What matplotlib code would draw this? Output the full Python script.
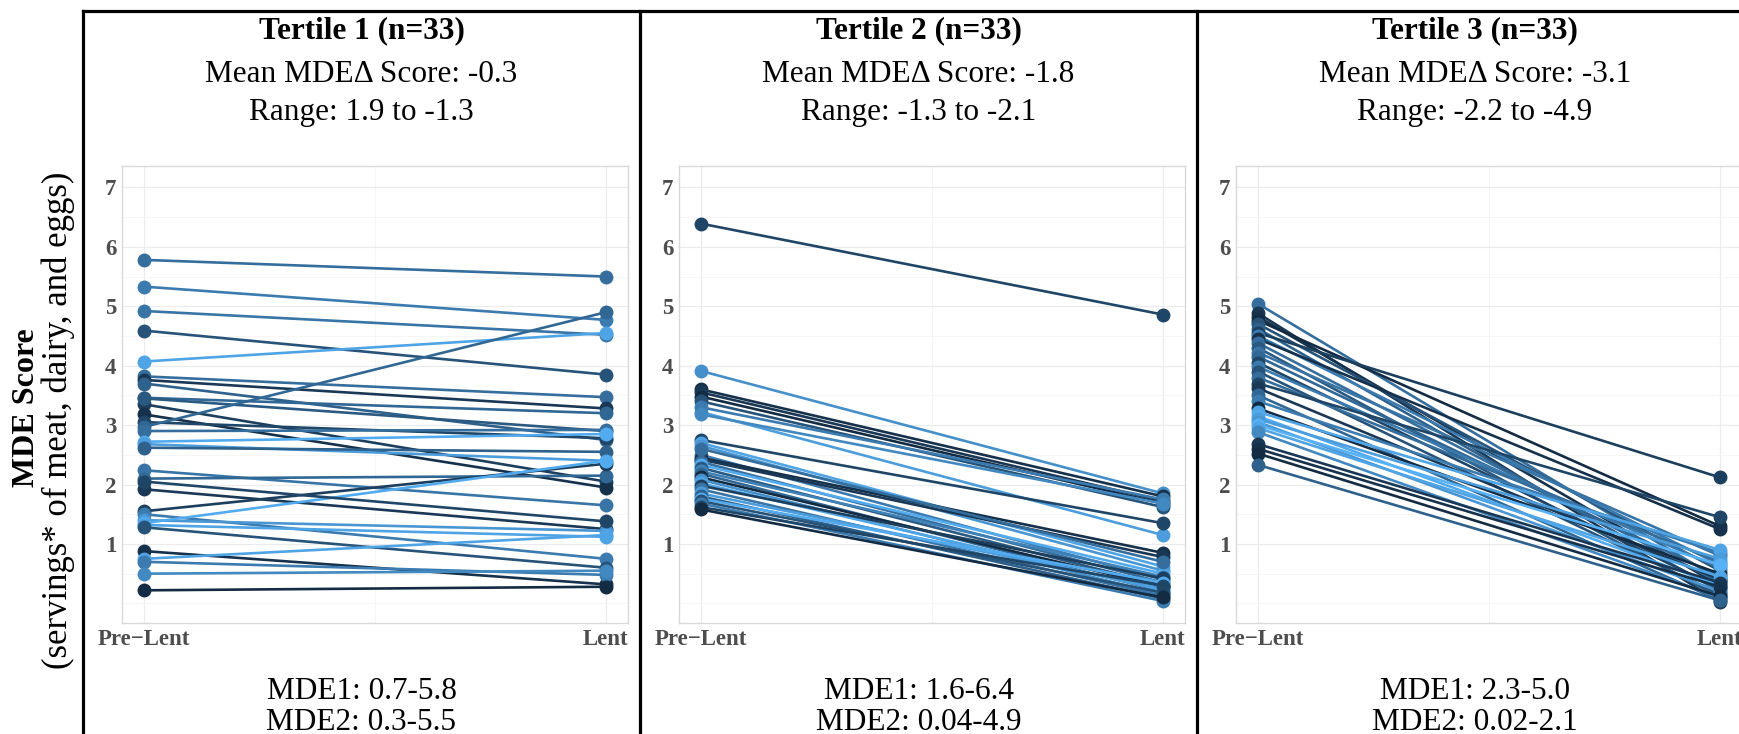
import numpy as np
import matplotlib
matplotlib.use('Agg')
import matplotlib.pyplot as plt
from matplotlib.colors import LinearSegmentedColormap
from matplotlib.lines import Line2D

plt.rcParams['font.family'] = ['Liberation Serif', 'DejaVu Serif']

# 数据：每个三分位组 33 人，Lent 前后的 MDE 分数，以及颜色值 (0 深 - 1 浅)
pre_1 = [5.78, 5.33, 4.92, 4.59, 4.07, 3.82, 3.76, 3.70, 3.35, 3.46, 3.45, 3.18, 3.05,
         2.97, 2.90, 2.72, 2.68, 2.62, 2.24, 2.10, 1.92, 1.55, 1.50, 1.40, 1.35, 1.32,
         1.28, 0.88, 0.75, 0.70, 0.50, 0.22, 2.05]
lent_1 = [5.50, 4.77, 4.52, 3.85, 4.55, 3.47, 3.28, 2.75, 2.05, 3.20, 2.90, 1.95, 2.78,
          4.90, 2.92, 2.85, 2.40, 2.55, 1.65, 2.15, 1.25, 2.35, 0.75, 1.22, 2.40, 1.12,
          0.60, 0.32, 1.15, 0.48, 0.55, 0.28, 1.38]
col_1 = [0.5, 0.6, 0.55, 0.3, 0.9, 0.5, 0.1, 0.4, 0.15, 0.45, 0.35, 0.05, 0.2,
         0.45, 0.5, 0.95, 0.85, 0.4, 0.55, 0.45, 0.1, 0.15, 0.6, 0.8, 0.95, 0.9,
         0.3, 0.05, 0.9, 0.6, 0.7, 0.0, 0.2]

pre_2 = [6.39, 3.91, 3.60, 3.55, 3.48, 3.40, 3.22, 3.30, 3.18, 2.75, 2.70, 2.65, 2.50,
         2.45, 2.42, 2.38, 2.33, 2.28, 2.22, 2.18, 2.12, 2.08, 2.02, 1.98, 1.92, 1.85,
         1.80, 1.76, 1.72, 1.68, 1.62, 1.58, 2.60]
lent_2 = [4.86, 1.85, 1.80, 1.72, 1.68, 1.62, 1.15, 1.75, 1.68, 1.35, 0.62, 0.55, 0.40,
          0.85, 0.78, 0.35, 0.50, 0.30, 0.45, 0.20, 0.28, 0.15, 0.22, 0.42, 0.12, 0.25,
          0.08, 0.35, 0.18, 0.04, 0.30, 0.10, 0.70]
col_2 = [0.2, 0.75, 0.05, 0.1, 0.0, 0.3, 0.85, 0.6, 0.7, 0.2, 0.9, 0.8, 0.6,
         0.05, 0.1, 0.5, 0.95, 0.35, 0.65, 0.45, 0.0, 0.75, 0.9, 0.15, 0.55, 0.85,
         0.4, 0.95, 0.3, 0.6, 0.2, 0.0, 0.5]

pre_3 = [5.04, 4.88, 4.82, 4.76, 4.70, 4.62, 4.55, 4.50, 4.45, 4.38, 4.30, 4.22, 4.15,
         4.05, 3.98, 3.90, 3.80, 3.70, 3.62, 3.50, 3.40, 3.28, 3.22, 3.15, 3.10, 3.05,
         3.00, 2.95, 2.88, 2.68, 2.60, 2.52, 2.33]
lent_3 = [0.40, 0.02, 0.30, 1.30, 0.55, 0.20, 2.12, 0.65, 1.25, 0.35, 0.10, 0.80, 0.45,
          0.25, 0.60, 0.15, 0.70, 1.45, 0.40, 0.05, 0.85, 0.50, 0.90, 0.30, 0.75, 0.20,
          0.65, 0.45, 0.10, 0.35, 0.28, 0.12, 0.05]
col_3 = [0.5, 0.1, 0.05, 0.0, 0.3, 0.4, 0.15, 0.6, 0.05, 0.5, 0.35, 0.55, 0.45,
         0.2, 0.6, 0.3, 0.5, 0.2, 0.1, 0.45, 0.6, 0.0, 0.9, 0.95, 0.85, 0.8,
         1.0, 0.9, 0.7, 0.1, 0.05, 0.0, 0.4]

titles = ['Tertile 1 (n=33)', 'Tertile 2 (n=33)', 'Tertile 3 (n=33)']
means = ['Mean MDE\u0394 Score: -0.3', 'Mean MDE\u0394 Score: -1.8', 'Mean MDE\u0394 Score: -3.1']
ranges = ['Range: 1.9 to -1.3', 'Range: -1.3 to -2.1', 'Range: -2.2 to -4.9']
mde1 = ['MDE1: 0.7-5.8', 'MDE1: 1.6-6.4', 'MDE1: 2.3-5.0']
mde2 = ['MDE2: 0.3-5.5', 'MDE2: 0.04-4.9', 'MDE2: 0.02-2.1']
xlabels = ['Pre\u2212Lent', 'Lent']

W, H = 1739, 734
fig = plt.figure(figsize=(W / 100, H / 100), dpi=100)
cmap = LinearSegmentedColormap.from_list('gg', ['#132B43', '#56B1F7'])

panels = [(pre_1, lent_1, col_1), (pre_2, lent_2, col_2), (pre_3, lent_3, col_3)]
ax_left = [122, 679, 1236]
ax_w = 506
col_centers = [361.5, 918.5, 1475]
top, bot = 166, 623

for i, (pre, lent, cv) in enumerate(panels):
    ax = fig.add_axes([ax_left[i] / W, 1 - bot / H, ax_w / W, (bot - top) / H])
    for p, l, c in zip(pre, lent, cv):
        ax.plot([1, 2], [p, l], color=cmap(c), lw=1.9, marker='o', ms=9, zorder=3)
    ax.set_xlim(0.952, 2.048)
    ax.set_ylim(-0.33, 7.36)
    ax.set_yticks(range(1, 8))
    ax.set_yticks(np.arange(0, 7.5, 0.5), minor=True)
    ax.set_xticks([1, 2])
    ax.set_xticks([1.5], minor=True)
    ax.set_xticklabels(xlabels)
    ax.grid(True, which='major', color='#ebebeb', lw=0.8)
    ax.grid(True, which='minor', color='#f5f5f5', lw=0.6)
    ax.set_axisbelow(True)
    ax.tick_params(which='both', length=0)
    ax.tick_params(axis='y', pad=4)
    ax.tick_params(axis='x', pad=4)
    for lab in ax.get_xticklabels() + ax.get_yticklabels():
        lab.set_fontweight('bold')
        lab.set_fontsize(16.5)
        lab.set_color('#4d4d4d')
    for s in ax.spines.values():
        s.set_color('#d9d9d9')
        s.set_linewidth(1)

    cx = col_centers[i] / W
    fig.text(cx, 1 - 38 / H, titles[i], ha='center', va='baseline', fontsize=22.5, fontweight='bold')
    fig.text(cx, 1 - 82 / H, means[i], ha='center', va='baseline', fontsize=22.5)
    fig.text(cx, 1 - 120 / H, ranges[i], ha='center', va='baseline', fontsize=22.5)
    fig.text(cx, 1 - 699 / H, mde1[i], ha='center', va='baseline', fontsize=22.5)
    fig.text(cx, 1 - 730 / H, mde2[i], ha='center', va='baseline', fontsize=22.5)

# 外框
for x in [83, 640, 1197]:
    fig.add_artist(Line2D([x / W, x / W], [0, 1 - 11 / H], color='black', lw=2.3))
fig.add_artist(Line2D([83 / W, 1], [1 - 11 / H, 1 - 11 / H], color='black', lw=2.3))

# y轴标题
fig.text(27 / W, 1 - 408 / H, 'MDE Score', rotation=90, ha='center', va='center',
         fontsize=23, fontweight='bold')
fig.text(58 / W, 1 - 420 / H, '(servings* of meat, dairy, and eggs)', rotation=90,
         ha='center', va='center', fontsize=25)

fig.savefig('out.png', dpi=100)
